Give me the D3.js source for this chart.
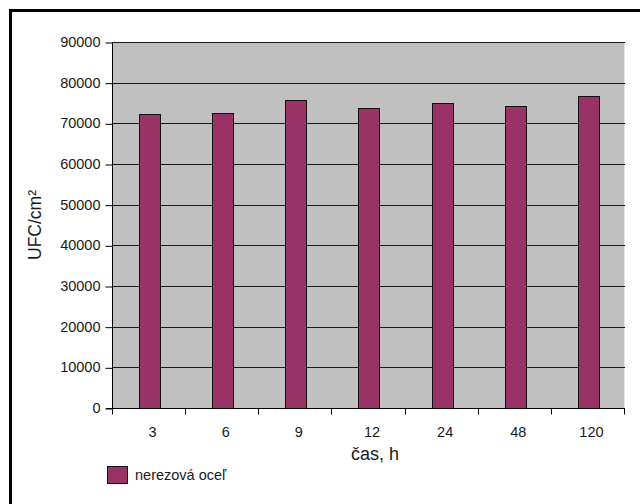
<!DOCTYPE html>
<html>
<head>
<meta charset="utf-8">
<script src="https://cdn.jsdelivr.net/npm/d3@7"></script>
<style>
  html, body { margin: 0; padding: 0; background: #fff; }
  svg { display: block; }
  text { font-family: "Liberation Sans", Arial, sans-serif; fill: #1a1a1a; }
</style>
</head>
<body>
<svg id="chart" width="640" height="504"></svg>
<script>
const categories = ["3", "6", "9", "12", "24", "48", "120"];
const values = [72200, 72500, 75800, 73800, 75100, 74300, 76700];
const yTicks = [0, 10000, 20000, 30000, 40000, 50000, 60000, 70000, 80000, 90000];
const seriesName = "nerezová oceľ";
const xTitle = "čas, h";
const yTitle = "UFC/cm²";

const svg = d3.select("#chart");
const pLeft = 113, pRight = 625, pTop = 42, pBottom = 408;

// outer frame
svg.append("rect")
  .attr("x", 10.5).attr("y", 10.5)
  .attr("width", 700).attr("height", 600)
  .attr("fill", "#fff").attr("stroke", "#000").attr("stroke-width", 3);

const y = d3.scaleLinear().domain([0, 90000]).range([pBottom, pTop]);
const x = d3.scaleBand().domain(categories).range([pLeft, pRight])
  .paddingInner(0.71).paddingOuter(0.355);
const xEdges = d3.scaleLinear().domain([0, categories.length]).range([pLeft, pRight]);

// plot background
svg.append("rect")
  .attr("x", pLeft).attr("y", pTop)
  .attr("width", pRight - pLeft).attr("height", pBottom - pTop)
  .attr("fill", "#c0c0c0");
svg.append("line")
  .attr("x1", pRight - 0.5).attr("x2", pRight - 0.5)
  .attr("y1", pTop).attr("y2", pBottom)
  .attr("stroke", "#e6e6e6").attr("stroke-width", 1);

// gridlines
svg.append("g").selectAll("line")
  .data(yTicks.filter(d => d > 0))
  .join("line")
  .attr("x1", pLeft).attr("x2", pRight)
  .attr("y1", d => Math.round(y(d)) + 0.5).attr("y2", d => Math.round(y(d)) + 0.5)
  .attr("stroke", "#1a1a1a").attr("stroke-width", 1);

// bars
svg.append("g").selectAll("rect")
  .data(values)
  .join("rect")
  .attr("x", (d, i) => Math.round(x(categories[i])) + 0.5)
  .attr("y", d => Math.round(y(d)) + 0.5)
  .attr("width", Math.round(x.bandwidth()))
  .attr("height", d => Math.round(y(0)) - Math.round(y(d)))
  .attr("fill", "#993366")
  .attr("stroke", "#111").attr("stroke-width", 1);

// y axis
const yAxis = d3.axisLeft(y).tickValues(yTicks).tickSize(7).tickPadding(5)
  .tickFormat(d3.format("d"));
const gy = svg.append("g").attr("transform", `translate(${pLeft - 0.5},0)`).call(yAxis);
gy.select(".domain").attr("stroke", "#000").attr("d", `M0,${pTop}V${pBottom}`);
gy.selectAll(".tick line").attr("stroke", "#000")
  .attr("transform", "translate(0,0.5)");
gy.selectAll(".tick text")
  .attr("font-size", 14.5)
  .attr("font-family", "Liberation Sans, Arial, sans-serif")
  .attr("fill", "#1a1a1a");

// x axis: tick marks at category boundaries
const gx = svg.append("g").attr("transform", `translate(0,${pBottom + 0.5})`);
gx.append("line")
  .attr("x1", pLeft - 7).attr("x2", pRight)
  .attr("y1", 0).attr("y2", 0)
  .attr("stroke", "#000");
gx.selectAll("line.tk")
  .data(d3.range(0, categories.length + 1))
  .join("line").attr("class", "tk")
  .attr("x1", d => Math.round(xEdges(d)) - 0.5).attr("x2", d => Math.round(xEdges(d)) - 0.5)
  .attr("y1", 0).attr("y2", 6)
  .attr("stroke", "#000");
gx.selectAll("text")
  .data(categories)
  .join("text")
  .attr("x", d => x(d) + x.bandwidth() / 2 + 3)
  .attr("y", 28)
  .attr("text-anchor", "middle")
  .attr("font-size", 14.5)
  .text(d => d);

// axis titles
svg.append("text")
  .attr("x", (pLeft + pRight) / 2 + 6).attr("y", 460)
  .attr("text-anchor", "middle")
  .attr("font-size", 18)
  .text(xTitle);
svg.append("text")
  .attr("transform", `translate(41,${(pTop + pBottom) / 2}) rotate(-90)`)
  .attr("text-anchor", "middle")
  .attr("font-size", 17.5)
  .text(yTitle);

// legend
const lg = svg.append("g").attr("transform", "translate(107,466)");
lg.append("rect")
  .attr("x", 0.5).attr("y", 0.5).attr("width", 20).attr("height", 17)
  .attr("fill", "#993366").attr("stroke", "#111");
lg.append("text")
  .attr("x", 28).attr("y", 14)
  .attr("font-size", 14.5)
  .text(seriesName);
</script>
</body>
</html>
